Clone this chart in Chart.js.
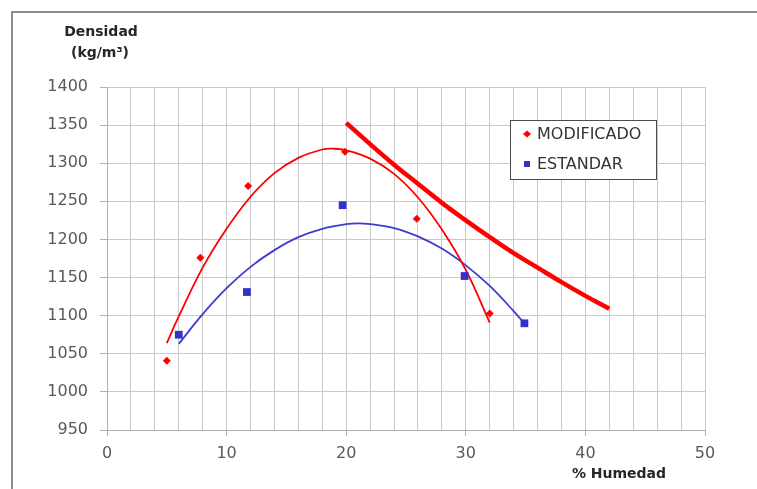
<!DOCTYPE html>
<html>
<head>
<meta charset="utf-8">
<script src="https://cdn.jsdelivr.net/npm/chart.js@4/dist/chart.umd.min.js"></script>
<style>
  html, body { margin: 0; padding: 0; background: #fff; overflow: hidden; }
  #wrap { width: 757px; height: 489px; }
</style>
</head>
<body>
<div id="wrap"><canvas id="chart" width="757" height="489"></canvas></div>
<script>
// measured points
const humedadMod = [5, 7.8, 11.8, 19.9, 25.9, 32]
const densidadMod = [1041, 1176, 1270, 1315, 1227, 1103]
const humedadEst = [6, 11.7, 19.7, 29.9, 34.9]
const densidadEst = [1075, 1131, 1245, 1152, 1090]

// trend curves
const trendModX = [5, 6, 8, 10, 12, 14, 16, 18, 19, 20, 22, 24, 26, 28, 30, 32]
const trendModY = [1064, 1099, 1163, 1214, 1256, 1287, 1307, 1318, 1319, 1317, 1306, 1286, 1255, 1213, 1160, 1091]
const trendEstX = [6, 8, 10, 12, 14, 16, 18, 20, 21, 22, 24, 26, 28, 30, 32, 34, 35]
const trendEstY = [1063, 1102, 1136, 1164, 1186, 1203, 1214, 1220, 1221, 1220, 1215, 1204, 1188, 1166, 1139, 1106, 1088]
const saturX = [20, 22, 24, 26, 28, 30, 32, 34, 36, 38, 40, 42]
const saturY = [1353, 1325, 1298, 1273, 1248, 1225, 1203, 1182, 1163, 1144, 1126, 1109]

const xTicks = [0, 10, 20, 30, 40, 50]
const yMin = 950, yMax = 1400, yStep = 50

const pts = (xs, ys) => xs.map((x, i) => ({ x, y: ys[i] }))

const RED = '#ff0000'
const BLUE = '#3232c8'
const GRID = '#c9c9c9'
const TICK_TXT = '#595959'
const FONT = 'DejaVu Sans'

const decor = {
  id: 'decor',
  beforeDraw(chart) {
    const ctx = chart.ctx
    ctx.save()
    ctx.fillStyle = '#fff'
    ctx.fillRect(0, 0, chart.width, chart.height)
    ctx.strokeStyle = '#8c8c8c'
    ctx.lineWidth = 2
    ctx.strokeRect(12, 12, chart.width + 20, chart.height + 20)
    ctx.restore()
  },
  afterDraw(chart) {
    const ctx = chart.ctx
    const a = chart.chartArea
    ctx.save()
    // axis titles
    ctx.fillStyle = '#262626'
    ctx.font = 'bold 14px "' + FONT + '"'
    ctx.textAlign = 'center'
    ctx.textBaseline = 'middle'
    ctx.fillText('Densidad', 101, 32)
    ctx.fillText('(kg/m³)', 100, 53)
    ctx.fillText('% Humedad', a.right - 86, 474)

    // legend box
    const lx = a.right - 195, ly = 120
    ctx.fillStyle = '#fff'
    ctx.fillRect(lx, ly, 146, 59)
    ctx.strokeStyle = '#4d4d4d'
    ctx.lineWidth = 1
    ctx.strokeRect(lx + 0.5, ly + 0.5, 146, 59)
    ctx.font = '16px "' + FONT + '"'
    ctx.textAlign = 'left'
    const items = chart.data.datasets.filter(d => d.inLegend)
    items.forEach((d, i) => {
      const cy = ly + 14 + i * 30
      ctx.fillStyle = d.backgroundColor
      ctx.beginPath()
      if (d.pointStyle === 'rect') {
        ctx.rect(lx + 14, cy - 3, 6, 6)
      } else {
        ctx.moveTo(lx + 13, cy); ctx.lineTo(lx + 17, cy - 3.5)
        ctx.lineTo(lx + 21, cy); ctx.lineTo(lx + 17, cy + 3.5)
        ctx.closePath()
      }
      ctx.fill()
      ctx.fillStyle = '#333'
      ctx.fillText(d.label, lx + 27, cy + 1)
    })
    ctx.restore()
  }
}

new Chart(document.getElementById('chart'), {
  type: 'scatter',
  data: {
    datasets: [
      {
        label: 'MODIFICADO',
        inLegend: true,
        data: pts(humedadMod, densidadMod),
        pointStyle: 'rectRot',
        pointRadius: 4,
        backgroundColor: RED,
        borderColor: RED,
        borderWidth: 0,
        order: 0,
      },
      {
        label: 'ESTANDAR',
        inLegend: true,
        data: pts(humedadEst, densidadEst),
        pointStyle: 'rect',
        pointRadius: 5.5,
        backgroundColor: BLUE,
        borderColor: BLUE,
        borderWidth: 0,
        order: 0,
      },
      {
        label: 'tendencia modificado',
        data: pts(trendModX, trendModY),
        showLine: true,
        pointRadius: 0,
        borderColor: RED,
        borderWidth: 1.8,
        tension: 0.4,
        order: 1,
      },
      {
        label: 'tendencia estandar',
        data: pts(trendEstX, trendEstY),
        showLine: true,
        pointRadius: 0,
        borderColor: '#3c3cd2',
        borderWidth: 1.8,
        tension: 0.4,
        order: 1,
      },
      {
        label: 'saturacion',
        data: pts(saturX, saturY),
        showLine: true,
        pointRadius: 0,
        borderColor: RED,
        borderWidth: 4.5,
        tension: 0.4,
        order: 1,
      },
    ]
  },
  options: {
    responsive: false,
    animation: false,
    layout: { padding: { left: 0, top: 87, right: 52, bottom: 0 } },
    scales: {
      x: {
        type: 'linear',
        min: 0,
        max: 50,
        afterFit: (s) => { s.height = 59 },
        grid: {
          color: GRID,
          lineWidth: 1,
          tickLength: 6,
          tickColor: (c) => xTicks.includes(c.tick.value) ? '#b0b0b0' : 'transparent',
        },
        border: { color: '#b0b0b0' },
        ticks: {
          stepSize: 2,
          autoSkip: false,
          maxRotation: 0,
          padding: 8,
          color: TICK_TXT,
          font: { family: FONT, size: 16 },
          callback: (v) => xTicks.includes(v) ? String(v) : '',
        }
      },
      y: {
        min: yMin,
        max: yMax,
        afterFit: (s) => { s.width = 107 },
        grid: { color: GRID, lineWidth: 1, tickLength: 7, tickColor: '#b0b0b0' },
        border: { color: '#b0b0b0' },
        ticks: {
          stepSize: yStep,
          padding: 12,
          color: TICK_TXT,
          font: { family: FONT, size: 16 },
          callback: (v) => String(v),
        }
      }
    },
    plugins: {
      legend: { display: false },
      tooltip: { enabled: false },
    }
  },
  plugins: [decor]
})
</script>
</body>
</html>
